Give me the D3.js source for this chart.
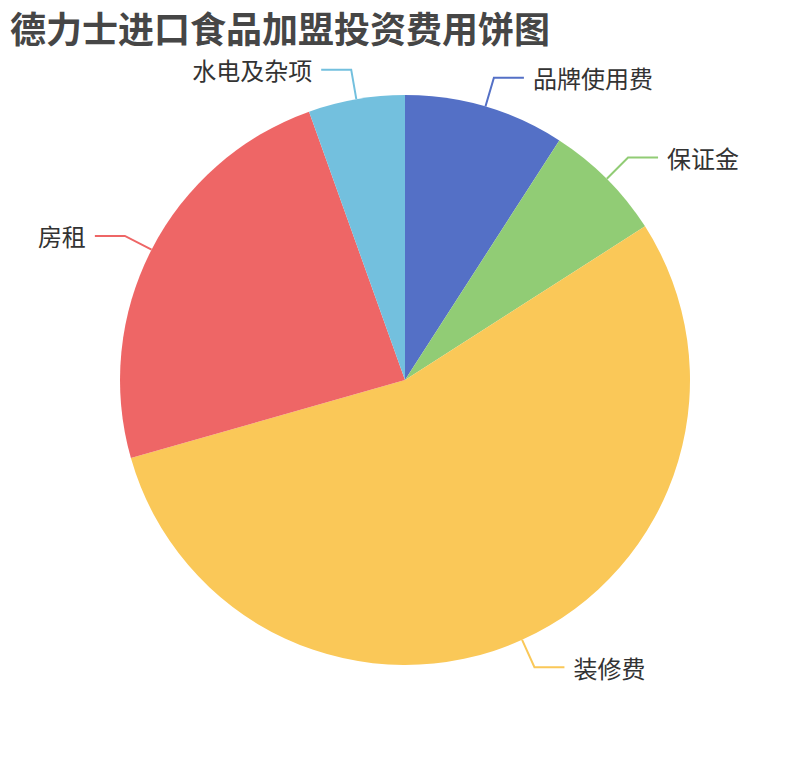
<!DOCTYPE html>
<html><head><meta charset="utf-8">
<script src="https://cdn.jsdelivr.net/npm/d3@7/dist/d3.min.js"></script>
<style>body{margin:0;background:#fff}svg{display:block}</style>
</head><body>
<svg id="c" width="810" height="760"></svg>
<script>
const titleText = "德力士进口食品加盟投资费用饼图";
const categories = ["品牌使用费", "保证金", "装修费", "房租", "水电及杂项"];
const values = [10, 7.5, 60, 26.3, 6];
const colors = ["#5470c6", "#91cc75", "#fac858", "#ee6666", "#73c0de"];

const W = 810, H = 760, cx = 405, cy = 380, R = 285;
const len1 = 30, len2 = 30, gap = 9;
const font = "'Noto Sans CJK SC','Noto Sans',sans-serif";

const svg = d3.select("#c");
svg.append("text").attr("x", 10).attr("y", 27)
  .attr("dominant-baseline", "central")
  .attr("font-family", font).attr("font-weight", "bold").attr("font-size", 36)
  .attr("fill", "#464646").text(titleText);

const data = categories.map((c, i) => ({name: c, value: values[i], color: colors[i]}));
const pie = d3.pie().value(d => d.value).sort(null);
const arcs = pie(data);
const arc = d3.arc().innerRadius(0).outerRadius(R);
const g = svg.append("g").attr("transform", `translate(${cx},${cy})`);

g.selectAll("path.slice").data(arcs).join("path").attr("class", "slice")
  .attr("d", arc).attr("fill", d => d.data.color);

arcs.forEach(a => {
  const m = (a.startAngle + a.endAngle) / 2;
  const sx = Math.sin(m), sy = -Math.cos(m);
  const p0 = [sx * R, sy * R];
  const p1 = [sx * (R + len1), sy * (R + len1)];
  const dir = sx >= 0 ? 1 : -1;
  const p2 = [p1[0] + dir * len2, p1[1]];
  g.append("polyline").attr("points", [p0, p1, p2].map(p => p.join(",")).join(" "))
    .attr("fill", "none").attr("stroke", a.data.color).attr("stroke-width", 2);
  g.append("text").attr("x", p2[0] + dir * gap).attr("y", p2[1])
    .attr("text-anchor", dir > 0 ? "start" : "end")
    .attr("dominant-baseline", "central")
    .attr("font-family", font).attr("font-size", 24).attr("fill", "#333")
    .text(a.data.name);
});
</script>
</body></html>
